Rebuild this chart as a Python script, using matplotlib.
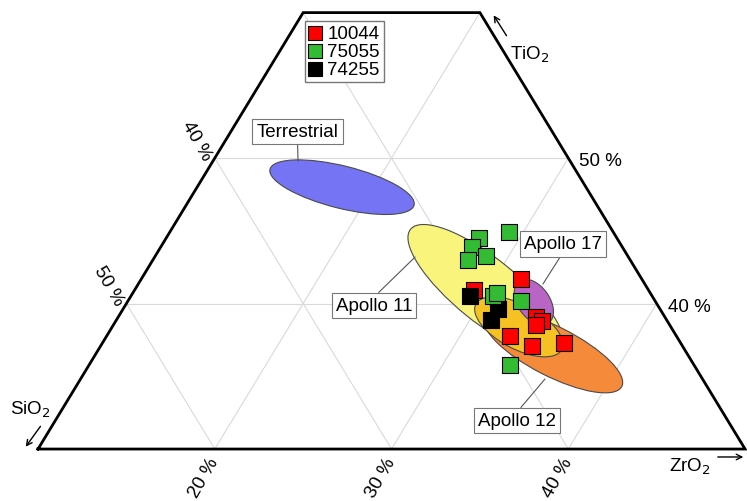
import matplotlib
matplotlib.use("Agg")
import matplotlib.pyplot as plt
from matplotlib.patches import Ellipse
import numpy as np

plt.rcParams["font.family"] = ["Liberation Sans", "DejaVu Sans"]

# sample compositions in %, SiO2 is the rest (100 - TiO2 - ZrO2)
red_zr = [31.5, 29.2, 33.6, 34.1, 33.9, 32.8, 34.4, 36.1]
red_ti = [41.7, 40.9, 39.1, 38.8, 38.5, 37.8, 37.1, 37.3]
green_zr = [29.2, 27.7, 27.6, 28.7, 27.8, 30.5, 30.6, 32.2, 33.8]
green_ti = [44.9, 44.5, 43.9, 43.3, 43.0, 40.5, 40.7, 40.2, 35.8]
black_zr = [29.2, 31.2, 31.2]
black_ti = [40.5, 39.6, 38.9]

samples = ["10044", "75055", "74255"]
sample_colors = ["#ff0000", "#33bb33", "#000000"]

# compositional fields: centre (ZrO2, TiO2), ellipse axes in plot units, tilt
field_names = ["Terrestrial", "Apollo 11", "Apollo 12", "", "Apollo 17"]
field_zr = [18.2, 29.9, 35.8, 33.0, 33.0]
field_ti = [48.0, 40.9, 36.7, 38.4, 40.1]
field_w = [8.4, 11.0, 8.7, 5.5, 2.9]
field_h = [2.4, 3.6, 2.8, 2.5, 1.8]
field_ang = [-14, -39, -27, -28, -55]
field_colors = ["#7474f4", "#f8f47c", "#f58a3a", "#f6c122", "#b865c6"]

grid_ti = [40, 50]
grid_zr = [20, 30, 40]
grid_si = [30, 40, 50]

V = 0.823  # the original diagram is a bit squashed vertically


def xy(zr, ti):
    zr = np.asarray(zr, dtype=float)
    ti = np.asarray(ti, dtype=float)
    return zr + ti / 2, ti * V


fig = plt.figure(figsize=(7.47, 5.02), dpi=100)
ax = fig.add_axes([0, 0, 1, 1])
ax.set_xlim(22.85, 65.11)
ax.set_ylim(21.75, 50.15)
ax.axis("off")

gkw = dict(color="#d9d9d9", lw=0.8, zorder=1)
for t in grid_ti:
    ax.plot(*xy([10, 80 - t], [t, t]), **gkw)
for z in grid_zr:
    ax.plot(*xy([z, z], [30, min(60, 80 - z)]), **gkw)
for s in grid_si:
    t0 = min(60, 90 - s)
    ax.plot(*xy([100 - s - t0, 70 - s], [t0, 30]), **gkw)

# outline of the cut-out of the ternary
ox, oy = xy([10, 50, 20, 10, 10], [30, 30, 60, 60, 30])
ax.plot(ox, oy, color="black", lw=2, solid_joinstyle="miter", zorder=5)

for i in range(len(field_names)):
    c = xy(field_zr[i], field_ti[i])
    ax.add_patch(Ellipse((float(c[0]), float(c[1])), field_w[i], field_h[i],
                         angle=field_ang[i], facecolor=field_colors[i],
                         edgecolor="#4a4a4a", lw=0.8, zorder=2 + i * 0.1))

mkw = dict(marker="s", s=140, edgecolors="black", linewidths=0.8, zorder=4)
sx, sy = xy(red_zr, red_ti)
ax.scatter(sx, sy, color=sample_colors[0], label=samples[0], **mkw)
sx, sy = xy(black_zr, black_ti)
ax.scatter(sx, sy, color=sample_colors[2], label=samples[2], **mkw)
sx, sy = xy(green_zr, green_ti)
ax.scatter(sx, sy, color=sample_colors[1], label=samples[1], **mkw)

h, l = ax.get_legend_handles_labels()
order = [l.index(s) for s in samples]
ax.legend([h[k] for k in order], [l[k] for k in order], loc="upper left",
          bbox_to_anchor=(0.408, 0.956), fancybox=False, edgecolor="#777777",
          framealpha=1, fontsize=13.5, handlelength=0.7, handletextpad=0.3,
          borderpad=0.2, labelspacing=0.05, borderaxespad=0, markerscale=0.9)

# field labels with leader lines
boxkw = dict(boxstyle="square,pad=0.22", fc="white", ec="#777777", lw=0.8)
lines = dict(arrowstyle="-", color="#555555", lw=0.8, shrinkA=0, shrinkB=0)
labels = [("Terrestrial", (39.71, 40.98), (39.68, 42.65), (0.5, 0)),
          ("Apollo 11", (46.33, 35.55), (44.01, 32.81), (0.5, 1)),
          ("Apollo 17", (53.57, 34.03), (54.70, 36.29), (0.5, 0)),
          ("Apollo 12", (53.68, 28.65), (52.10, 26.30), (0.5, 1))]
for txt, p, q, rp in labels:
    ax.annotate(txt, xy=p, xytext=q, ha="center", va="center", fontsize=13.5,
                bbox=boxkw, arrowprops=dict(relpos=rp, **lines), zorder=6)

# tick labels along the three edges
for s in grid_si[1:]:
    ax.annotate(f"{s} %", xy(10, 90 - s), xytext=(-13, 13),
                textcoords="offset points", rotation=-60, ha="center",
                va="center", fontsize=13.5)
for t in grid_ti:
    ax.annotate(f"{t} %", xy(80 - t, t), xytext=(8, -2),
                textcoords="offset points", ha="left", va="center",
                fontsize=13.5)
for z in grid_zr:
    ax.annotate(f"{z} %", xy(z, 30), xytext=(0, -7),
                textcoords="offset points", rotation=60, rotation_mode="anchor",
                ha="right", va="center", fontsize=13.5)

# component names with arrows
akw = dict(arrowstyle="->", color="black", lw=1, mutation_scale=10)
ax.text(51.70, 47.04, "TiO$_2$", ha="left", va="center", fontsize=13.5)
ax.annotate("", xy=(50.69, 49.36), xytext=(51.59, 47.94), arrowprops=akw)
ax.text(24.55, 26.95, "SiO$_2$", ha="center", va="center", fontsize=13.5)
ax.annotate("", xy=(24.21, 24.69), xytext=(25.23, 26.10), arrowprops=akw)
ax.text(61.89, 23.73, "ZrO$_2$", ha="center", va="center", fontsize=13.5)
ax.annotate("", xy=(65.06, 24.24), xytext=(63.30, 24.24), arrowprops=akw)

fig.savefig("out.png", dpi=100)
